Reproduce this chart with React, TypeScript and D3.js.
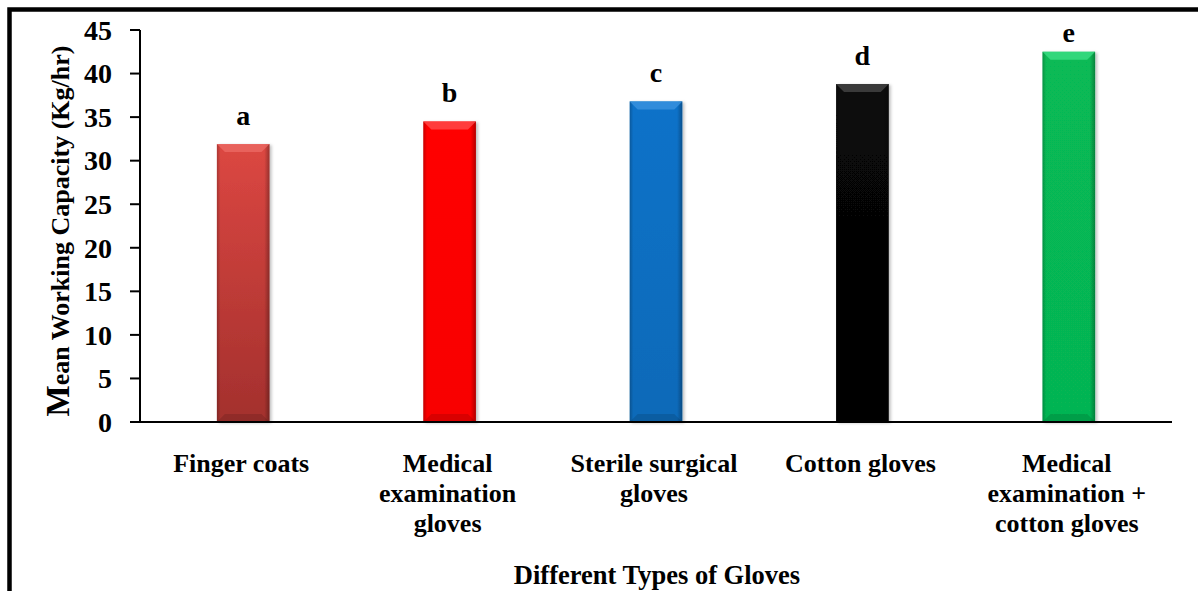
import React from 'react'
import * as d3 from 'd3'

const categories = [
  'Finger coats',
  'Medical examination gloves',
  'Sterile surgical gloves',
  'Cotton gloves',
  'Medical examination + cotton gloves',
]
const labelLines = [
  ['Finger coats'],
  ['Medical', 'examination', 'gloves'],
  ['Sterile surgical', 'gloves'],
  ['Cotton gloves'],
  ['Medical', 'examination +', 'cotton gloves'],
]
const values = [31.9, 34.5, 36.8, 38.8, 42.5]
const letters = ['a', 'b', 'c', 'd', 'e']
const yTicks = [0, 5, 10, 15, 20, 25, 30, 35, 40, 45]

// top / bottom colour of each bar, plus bevel tint
const barTop = ['#dc4742', '#ff0000', '#0b72c9', '#080808', '#07ba56']
const barBottom = ['#a3302d', '#f80000', '#0a6ab8', '#030303', '#06b452']
const bevel = ['#ec6b66', '#ff5050', '#3e95e0', '#4a4a4a', '#3ee088']

const font = '"Liberation Serif", "Times New Roman", serif'

export default function App() {
  const width = 1198
  const height = 591
  const plot = { left: 140, right: 1172, top: 30, bottom: 422 }

  const x = d3.scaleBand()
    .domain(categories)
    .range([plot.left, plot.right])
    .paddingInner(0.745)
    .paddingOuter(0.3725)
  const y = d3.scaleLinear().domain([0, 45]).range([plot.bottom, plot.top])
  const bw = x.bandwidth()

  return (
    <svg width={width} height={height} viewBox={`0 0 ${width} ${height}`}
      style={{ position: 'absolute', left: 0, top: 0, background: '#fff' }}
      fontFamily={font} fontWeight="bold">
      <defs>
        <filter id="shadow" x="-30%" y="-10%" width="160%" height="120%">
          <feDropShadow dx="2" dy="1" stdDeviation="1.5" floodColor="#000" floodOpacity="0.25" />
        </filter>
        {barTop.map((c, i) => (
          <linearGradient key={i} id={`vg${i}`} x1="0" y1="0" x2="0" y2="1">
            <stop offset="0" stopColor={c} />
            <stop offset="1" stopColor={barBottom[i]} />
          </linearGradient>
        ))}
        <linearGradient id="edges" x1="0" y1="0" x2="1" y2="0">
          <stop offset="0" stopColor="#000" stopOpacity="0.22" />
          <stop offset="0.07" stopColor="#000" stopOpacity="0.0" />
          <stop offset="0.9" stopColor="#000" stopOpacity="0.0" />
          <stop offset="1" stopColor="#000" stopOpacity="0.3" />
        </linearGradient>
      </defs>

      {/* frame */}
      <rect x={9.5} y={9.5} width={width + 20} height={height + 20}
        fill="none" stroke="#000" strokeWidth={4.5} />

      {/* bars */}
      {categories.map((c, i) => {
        const x0 = x(c)!
        const y0 = y(values[i])
        const h = y(0) - y0
        const b = 8
        // letters sit above the bar but stay clear of the frame
        const ly = Math.max(y0 - 19, 42)
        return (
          <g key={c}>
            <rect x={x0} y={y0} width={bw} height={h} fill={`url(#vg${i})`} filter="url(#shadow)" />
            <rect x={x0} y={y0} width={bw} height={h} fill="url(#edges)" />
            <path d={`M${x0},${y0}H${x0 + bw}L${x0 + bw - b},${y0 + b}H${x0 + b}Z`}
              fill={bevel[i]} opacity={0.75} />
            <path d={`M${x0},${y0 + h}H${x0 + bw}L${x0 + bw - b},${y0 + h - b}H${x0 + b}Z`}
              fill="#000" opacity={0.12} />
            <text x={x0 + bw / 2} y={ly} textAnchor="middle" fontSize={28}>{letters[i]}</text>
          </g>
        )
      })}

      {/* axes */}
      <line x1={plot.left} x2={plot.left} y1={plot.top} y2={plot.bottom} stroke="#000" strokeWidth={2} />
      <line x1={plot.left - 10} x2={plot.right} y1={plot.bottom} y2={plot.bottom} stroke="#000" strokeWidth={2} />
      {yTicks.map(t => (
        <g key={t}>
          <line x1={plot.left - 10} x2={plot.left} y1={y(t)} y2={y(t)} stroke="#000" strokeWidth={2} />
          <text x={112} y={y(t)} dy="0.35em" textAnchor="end" fontSize={28}>{t}</text>
        </g>
      ))}

      {/* category labels */}
      {categories.map((c, i) => (
        <text key={c} textAnchor="middle" fontSize={26}>
          {labelLines[i].map((line, j) => (
            <tspan key={j} x={x(c)! + bw / 2 - 2} y={472 + j * 30}>{line}</tspan>
          ))}
        </text>
      ))}

      {/* axis titles */}
      <text x={657} y={584} textAnchor="middle" fontSize={26.5}>Different Types of Gloves</text>
      <text transform="translate(69,231) rotate(-90)" textAnchor="middle" fontSize={26}>
        <tspan fontSize={33}>M</tspan>ean Working Capacity (Kg/hr)
      </text>
    </svg>
  )
}
